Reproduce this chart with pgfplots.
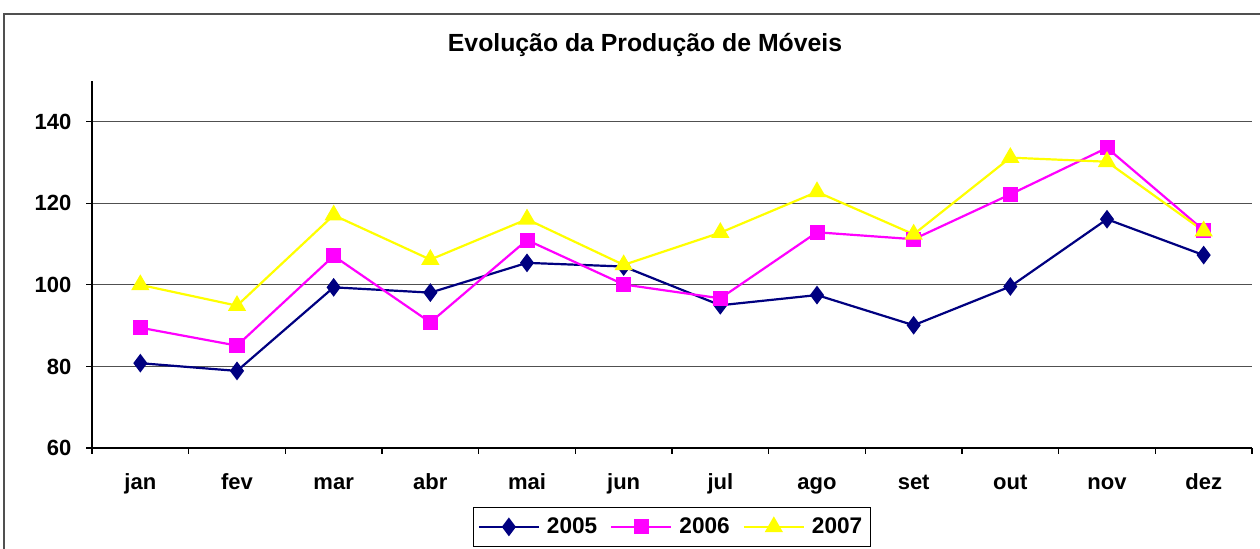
\documentclass[border=0pt]{standalone}
\usepackage{pgfplots}
\pgfplotsset{compat=1.18}
\usepackage{fontspec}
\setmainfont{Liberation Sans}
\definecolor{c05}{HTML}{000080}
\definecolor{c06}{HTML}{FF00FF}
\definecolor{c07}{HTML}{FFFF00}
\definecolor{gridc}{HTML}{505050}
\begin{document}
\begin{tikzpicture}[x=1pt,y=1pt]
\useasboundingbox (-46,-50.5) rectangle (584,224);
\begin{axis}[
  at={(0,0)}, anchor=south west,
  scale only axis, width=580pt, height=183.5pt,
  xmin=-0.5, xmax=11.5, ymin=60, ymax=150,
  axis x line*=bottom, axis y line*=left,
  axis line style={black, line width=0.6pt, -},
  xtick={-0.5,0.5,...,11.5},
  x tick label as interval,
  xticklabels={jan,fev,mar,abr,mai,jun,jul,ago,set,out,nov,dez},
  ytick={60,80,...,140},
  ymajorgrids, grid style={gridc, line width=0.6pt},
  tick align=outside,
  major tick length=2.8pt,
  every tick/.style={black, line width=0.6pt},
  xticklabel style={font=\fontsize{11}{13}\selectfont\bfseries, text height=8pt, text depth=2.5pt, yshift=-6.5pt},
  yticklabel style={font=\fontsize{11}{13}\selectfont\bfseries, xshift=-4pt},
  /pgf/number format/assume math mode=true,
  legend style={at={(0.5,-0.215)}, anchor=center, legend columns=3,
    draw=black, line width=0.6pt, font=\fontsize{11.3}{13}\selectfont\bfseries,
    inner ysep=3pt, inner xsep=2pt,
    /tikz/every odd column/.append style={column sep=1.5pt},
    /tikz/every even column/.append style={column sep=4.5pt}},
  legend cell align=left,
  legend image code/.code={\draw[mark repeat=2,mark phase=2] plot coordinates {(0pt,0pt) (15pt,0pt) (30pt,0pt)};},
  every axis plot/.append style={line width=1.1pt},
]
\addplot[c05, mark=diamond*, mark size=3.8pt, mark options={fill=c05}] coordinates {
(0,80.8) (1,78.9) (2,99.4) (3,98.1) (4,105.4) (5,104.5) (6,95.0) (7,97.5) (8,90.1) (9,99.6) (10,116.1) (11,107.3)};
\addplot[c06, mark=square*, mark size=3.2pt, mark options={fill=c06}] coordinates {
(0,89.5) (1,85.1) (2,107.1) (3,90.8) (4,111.0) (5,100.1) (6,96.7) (7,112.9) (8,111.2) (9,122.2) (10,133.6) (11,113.4)};
\addplot[c07, mark=triangle*, mark size=4.2pt, mark options={fill=c07}] coordinates {
(0,100.0) (1,94.9) (2,117.1) (3,106.2) (4,116.1) (5,104.9) (6,112.8) (7,122.8) (8,112.4) (9,131.2) (10,130.2) (11,113.2)};
\legend{2005,2006,2007}
\end{axis}
\draw[gridc, line width=1pt] (-44,-60) -- (-44,217) -- (600,217);
\node[font=\fontsize{12.4}{15}\selectfont\bfseries] at (276.5,201.5) {Evolução da Produção de Móveis};
\end{tikzpicture}
\end{document}
